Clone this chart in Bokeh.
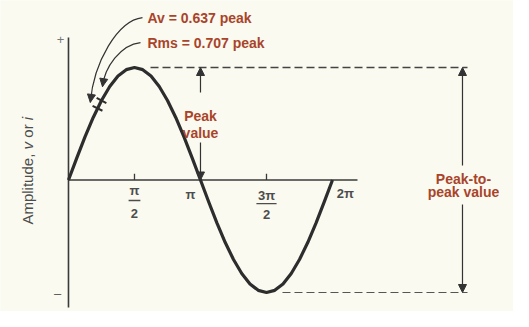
import numpy as np
from bokeh.plotting import figure
from bokeh.models import Range1d, Arrow, NormalHead, ColumnDataSource
from bokeh.core.properties import value
from bokeh.embed import file_html
from bokeh.resources import INLINE

# ---------------- data ----------------
# angle in steps of pi/16 over one full cycle, amplitude relative to peak
steps = list(range(33))
amplitude = [0.0, 0.195, 0.383, 0.556, 0.707, 0.831, 0.924, 0.981, 1.0,
             0.981, 0.924, 0.831, 0.707, 0.556, 0.383, 0.195, 0.0,
             -0.195, -0.383, -0.556, -0.707, -0.831, -0.924, -0.981, -1.0,
             -0.981, -0.924, -0.831, -0.707, -0.556, -0.383, -0.195, 0.0]
tick_positions = [np.pi / 2, 3 * np.pi / 2]
av_value = 0.637
rms_value = 0.707
peak_value = 1.0
av_label = "Av = 0.637 peak"
rms_label = "Rms = 0.707 peak"

angles = [s * np.pi / 16 for s in steps]

# ---------------- style ----------------
BG = "#fafaf0"
INK = "#2d2d2d"
GRAY = "#4d4d4d"
RED = "#a9442b"
FONT = value("Liberation Sans")

p = figure(width=513, height=311,
           x_range=Range1d(-1.618, 10.591), y_range=Range1d(-1.1689, 1.5956),
           x_axis_type=None, y_axis_type=None,
           output_backend="svg", toolbar_location=None, min_border=0,
           background_fill_color=BG, border_fill_color=BG,
           outline_line_color=None)

# axes
p.segment(x0=[0], y0=[1.267], x1=[0], y1=[-1.133], line_color="#3a3a3a", line_width=1.6)
p.segment(x0=[0], y0=[0], x1=[6.878], y1=[0], line_color="#3a3a3a", line_width=1.6)
p.segment(x0=tick_positions, y0=[0, 0], x1=tick_positions, y1=[0.055, 0.055],
          line_color="#3a3a3a", line_width=1.3)

# + / - markers on vertical axis
p.text(x=[-0.19], y=[1.249], text=["+"], text_font=FONT, text_font_size="13px",
       text_color="#777777", text_align="center", text_baseline="middle")
p.text(x=[-0.26], y=[-1.009], text=["\u2013"], text_font=FONT, text_font_size="13px",
       text_color="#555555", text_align="center", text_baseline="middle")

# tick labels (fractions)
tl = dict(text_font=FONT, text_font_size="13px", text_color=GRAY, text_font_style="bold",
          text_align="center", text_baseline="middle")
p.text(x=[np.pi / 2], y=[-0.095], text=["\u03c0"], **tl)
p.text(x=[np.pi / 2], y=[-0.300], text=["2"], **tl)
p.segment(x0=[np.pi / 2 - 0.14], y0=[-0.182], x1=[np.pi / 2 + 0.14], y1=[-0.182],
          line_color=GRAY, line_width=1.3)
p.text(x=[2.904], y=[-0.129], text=["\u03c0"], **tl)
p.text(x=[3 * np.pi / 2], y=[-0.138], text=["3\u03c0"], **tl)
p.text(x=[3 * np.pi / 2], y=[-0.307], text=["2"], **tl)
p.segment(x0=[3 * np.pi / 2 - 0.24], y0=[-0.21], x1=[3 * np.pi / 2 + 0.24], y1=[-0.21],
          line_color=GRAY, line_width=1.3)
p.text(x=[6.59], y=[-0.12], text=["2\u03c0"], **tl)

# y-axis title (rotated, with italic v and i)
yl = dict(text_font=FONT, text_font_size="15px", text_color=GRAY,
          text_align="left", text_baseline="middle", angle=np.pi / 2)
p.text(x=[-0.976], y=[-0.396], text=["Amplitude,"], **yl)
p.text(x=[-0.976], y=[0.272], text=["v"], text_font_style="italic", **yl)
p.text(x=[-0.976], y=[0.376], text=["or"], **yl)
p.text(x=[-0.976], y=[0.532], text=["i"], text_font_style="italic", **yl)

# dashed level lines
p.segment(x0=[1.952], y0=[peak_value], x1=[9.496], y1=[peak_value],
          line_color="#444444", line_width=1.5, line_dash="8 4")
p.segment(x0=[5.093], y0=[-peak_value], x1=[9.496], y1=[-peak_value],
          line_color="#555555", line_width=1.2, line_dash="8 4")

# sine curve
src = ColumnDataSource(dict(x=angles, y=amplitude))
p.line("x", "y", source=src, line_color=INK, line_width=3.2, line_join="round")

# tick marks on the curve for Av and Rms points
sx, sy = 42.017, 112.5
mx1, my1, mx0, my0 = [], [], [], []
for v in (av_value, rms_value):
    xa = float(np.arcsin(v))
    slope = np.cos(xa) * sy / sx
    nx, ny = slope, 1.0
    n = np.hypot(nx, ny)
    dxp, dyp = 5.5 * nx / n, 5.5 * ny / n
    mx0.append(xa - dxp / sx); my0.append(v + dyp / sy)
    mx1.append(xa + dxp / sx); my1.append(v - dyp / sy)
p.segment(x0=mx0, y0=my0, x1=mx1, y1=my1, line_color=INK, line_width=2)

# curved arrows to the marks
p.bezier(x0=[1.761, 1.714], y0=[1.444, 1.222],
         x1=[0.52, 0.809], y1=[0.69, 0.83],
         cx0=[1.166, 1.238], cy0=[1.418, 1.204],
         cx1=[0.60, 0.857], cy1=[1.044, 1.0],
         line_color="#333333", line_width=1.2)
for (xs, ys, xe, ye) in [(0.55, 0.77, 0.52, 0.69), (0.835, 0.89, 0.809, 0.83)]:
    p.add_layout(Arrow(end=NormalHead(size=8, fill_color="#333333", line_color="#333333"),
                       x_start=xs, y_start=ys, x_end=xe, y_end=ye,
                       line_color="#333333", line_width=1.2))

rt = dict(text_font=FONT, text_font_size="14px", text_color=RED, text_font_style="bold",
          text_baseline="middle")
p.text(x=[1.88], y=[1.444], text=[av_label], text_align="left", **rt)
p.text(x=[1.88], y=[1.222], text=[rms_label], text_align="left", **rt)

# peak value arrow
for (ys, ye) in [(0.778, peak_value), (0.333, 0.0)]:
    p.add_layout(Arrow(end=NormalHead(size=8, fill_color="#333333", line_color="#333333"),
                       x_start=np.pi, y_start=ys, x_end=np.pi, y_end=ye,
                       line_color="#333333", line_width=1.2))
p.text(x=[np.pi], y=[0.573], text=["Peak"], text_align="center", **rt)
p.text(x=[np.pi], y=[0.422], text=["value"], text_align="center", **rt)

# peak-to-peak arrow
xpp = 9.377
for (ys, ye) in [(0.129, peak_value), (-0.218, -peak_value)]:
    p.add_layout(Arrow(end=NormalHead(size=8, fill_color="#333333", line_color="#333333"),
                       x_start=xpp, y_start=ys, x_end=xpp, y_end=ye,
                       line_color="#333333", line_width=1.2))
p.text(x=[9.40], y=[0.013], text=["Peak-to-"], text_align="center", **rt)
p.text(x=[9.40], y=[-0.111], text=["peak value"], text_align="center", **rt)

open("out.html", "w").write(file_html(p, INLINE))
